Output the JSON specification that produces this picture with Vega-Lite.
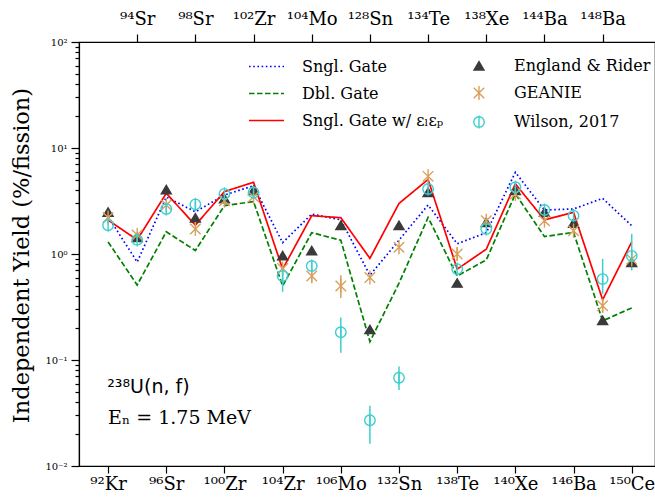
{
  "$schema": "https://vega.github.io/schema/vega-lite/v6.json",
  "width": 576,
  "height": 424,
  "autosize": "none",
  "padding": {"left": 79, "top": 42, "right": 0, "bottom": 33},
  "background": "white",
  "config": {
    "view": {"stroke": "black", "strokeWidth": 1.2},
    "font": "DejaVu Serif",
    "axis": {"domainColor": "black", "tickColor": "black", "labelColor": "black", "titleColor": "black", "grid": false, "domainWidth": 1.2, "tickWidth": 1.2, "labelFont": "DejaVu Serif", "titleFont": "DejaVu Serif"},
    "legend": {"labelFont": "DejaVu Serif", "labelColor": "black"}
  },
  "datasets": {
    "models": [
      {"model": "Sngl. Gate", "i": 0, "y": 2.25}, {"model": "Sngl. Gate", "i": 1, "y": 0.84}, {"model": "Sngl. Gate", "i": 2, "y": 3.45}, {"model": "Sngl. Gate", "i": 3, "y": 2.5}, {"model": "Sngl. Gate", "i": 4, "y": 3.6}, {"model": "Sngl. Gate", "i": 5, "y": 4.4}, {"model": "Sngl. Gate", "i": 6, "y": 1.28}, {"model": "Sngl. Gate", "i": 7, "y": 2.38}, {"model": "Sngl. Gate", "i": 8, "y": 2.1}, {"model": "Sngl. Gate", "i": 9, "y": 0.63}, {"model": "Sngl. Gate", "i": 10, "y": 1.35}, {"model": "Sngl. Gate", "i": 11, "y": 2.9}, {"model": "Sngl. Gate", "i": 12, "y": 1.25}, {"model": "Sngl. Gate", "i": 13, "y": 1.59}, {"model": "Sngl. Gate", "i": 14, "y": 5.9}, {"model": "Sngl. Gate", "i": 15, "y": 2.6}, {"model": "Sngl. Gate", "i": 16, "y": 2.66}, {"model": "Sngl. Gate", "i": 17, "y": 3.35}, {"model": "Sngl. Gate", "i": 18, "y": 1.85},
      {"model": "Dbl. Gate", "i": 0, "y": 1.3}, {"model": "Dbl. Gate", "i": 1, "y": 0.51}, {"model": "Dbl. Gate", "i": 2, "y": 1.62}, {"model": "Dbl. Gate", "i": 3, "y": 1.08}, {"model": "Dbl. Gate", "i": 4, "y": 2.86}, {"model": "Dbl. Gate", "i": 5, "y": 3.12}, {"model": "Dbl. Gate", "i": 6, "y": 0.5}, {"model": "Dbl. Gate", "i": 7, "y": 1.59}, {"model": "Dbl. Gate", "i": 8, "y": 1.35}, {"model": "Dbl. Gate", "i": 9, "y": 0.149}, {"model": "Dbl. Gate", "i": 10, "y": 0.53}, {"model": "Dbl. Gate", "i": 11, "y": 2.21}, {"model": "Dbl. Gate", "i": 12, "y": 0.62}, {"model": "Dbl. Gate", "i": 13, "y": 0.88}, {"model": "Dbl. Gate", "i": 14, "y": 3.69}, {"model": "Dbl. Gate", "i": 15, "y": 1.46}, {"model": "Dbl. Gate", "i": 16, "y": 1.6}, {"model": "Dbl. Gate", "i": 17, "y": 0.234}, {"model": "Dbl. Gate", "i": 18, "y": 0.31},
      {"model": "Sngl. Gate w/ εₗεₚ", "i": 0, "y": 2.09}, {"model": "Sngl. Gate w/ εₗεₚ", "i": 1, "y": 1.36}, {"model": "Sngl. Gate w/ εₗεₚ", "i": 2, "y": 3.74}, {"model": "Sngl. Gate w/ εₗεₚ", "i": 3, "y": 1.87}, {"model": "Sngl. Gate w/ εₗεₚ", "i": 4, "y": 3.88}, {"model": "Sngl. Gate w/ εₗεₚ", "i": 5, "y": 4.75}, {"model": "Sngl. Gate w/ εₗεₚ", "i": 6, "y": 0.72}, {"model": "Sngl. Gate w/ εₗεₚ", "i": 7, "y": 2.3}, {"model": "Sngl. Gate w/ εₗεₚ", "i": 8, "y": 2.2}, {"model": "Sngl. Gate w/ εₗεₚ", "i": 9, "y": 0.91}, {"model": "Sngl. Gate w/ εₗεₚ", "i": 10, "y": 3.0}, {"model": "Sngl. Gate w/ εₗεₚ", "i": 11, "y": 5.05}, {"model": "Sngl. Gate w/ εₗεₚ", "i": 12, "y": 0.72}, {"model": "Sngl. Gate w/ εₗεₚ", "i": 13, "y": 1.11}, {"model": "Sngl. Gate w/ εₗεₚ", "i": 14, "y": 4.59}, {"model": "Sngl. Gate w/ εₗεₚ", "i": 15, "y": 2.1}, {"model": "Sngl. Gate w/ εₗεₚ", "i": 16, "y": 2.47}, {"model": "Sngl. Gate w/ εₗεₚ", "i": 17, "y": 0.37}, {"model": "Sngl. Gate w/ εₗεₚ", "i": 18, "y": 1.3}
    ],
    "exp": [
      {"exp": "England & Rider", "i": 0, "y": 2.47}, {"exp": "England & Rider", "i": 1, "y": 1.43}, {"exp": "England & Rider", "i": 2, "y": 4.03}, {"exp": "England & Rider", "i": 3, "y": 2.18}, {"exp": "England & Rider", "i": 4, "y": 3.31}, {"exp": "England & Rider", "i": 5, "y": 3.96}, {"exp": "England & Rider", "i": 6, "y": 0.96}, {"exp": "England & Rider", "i": 7, "y": 1.07}, {"exp": "England & Rider", "i": 8, "y": 1.85}, {"exp": "England & Rider", "i": 9, "y": 0.193}, {"exp": "England & Rider", "i": 10, "y": 1.85}, {"exp": "England & Rider", "i": 11, "y": 3.8}, {"exp": "England & Rider", "i": 12, "y": 0.53}, {"exp": "England & Rider", "i": 13, "y": 1.98}, {"exp": "England & Rider", "i": 14, "y": 3.96}, {"exp": "England & Rider", "i": 15, "y": 2.47}, {"exp": "England & Rider", "i": 16, "y": 1.95}, {"exp": "England & Rider", "i": 17, "y": 0.235}, {"exp": "England & Rider", "i": 18, "y": 0.83},
      {"exp": "GEANIE", "i": 0, "y": 2.21}, {"exp": "GEANIE", "i": 1, "y": 1.51}, {"exp": "GEANIE", "i": 2, "y": 2.9}, {"exp": "GEANIE", "i": 3, "y": 1.72}, {"exp": "GEANIE", "i": 4, "y": 3.18}, {"exp": "GEANIE", "i": 5, "y": 3.47}, {"exp": "GEANIE", "i": 6, "y": 0.73}, {"exp": "GEANIE", "i": 7, "y": 0.62, "lo": 0.53, "hi": 0.72}, {"exp": "GEANIE", "i": 8, "y": 0.5, "lo": 0.385, "hi": 0.63}, {"exp": "GEANIE", "i": 9, "y": 0.6}, {"exp": "GEANIE", "i": 10, "y": 1.16}, {"exp": "GEANIE", "i": 11, "y": 5.4}, {"exp": "GEANIE", "i": 12, "y": 1.0, "lo": 0.86, "hi": 1.15}, {"exp": "GEANIE", "i": 13, "y": 2.06}, {"exp": "GEANIE", "i": 14, "y": 3.69}, {"exp": "GEANIE", "i": 15, "y": 2.06}, {"exp": "GEANIE", "i": 16, "y": 1.66}, {"exp": "GEANIE", "i": 17, "y": 0.325, "lo": 0.28, "hi": 0.38}, {"exp": "GEANIE", "i": 18, "y": 0.89},
      {"exp": "Wilson, 2017", "i": 0, "y": 1.87}, {"exp": "Wilson, 2017", "i": 1, "y": 1.36}, {"exp": "Wilson, 2017", "i": 2, "y": 2.66}, {"exp": "Wilson, 2017", "i": 3, "y": 2.94, "lo": 2.75, "hi": 3.15}, {"exp": "Wilson, 2017", "i": 4, "y": 3.69}, {"exp": "Wilson, 2017", "i": 5, "y": 3.8}, {"exp": "Wilson, 2017", "i": 6, "y": 0.62, "lo": 0.44, "hi": 0.72}, {"exp": "Wilson, 2017", "i": 7, "y": 0.77, "lo": 0.69, "hi": 0.86}, {"exp": "Wilson, 2017", "i": 8, "y": 0.183, "lo": 0.117, "hi": 0.252}, {"exp": "Wilson, 2017", "i": 9, "y": 0.027, "lo": 0.0162, "hi": 0.037}, {"exp": "Wilson, 2017", "i": 10, "y": 0.068, "lo": 0.052, "hi": 0.0866}, {"exp": "Wilson, 2017", "i": 11, "y": 4.1}, {"exp": "Wilson, 2017", "i": 12, "y": 0.72}, {"exp": "Wilson, 2017", "i": 13, "y": 1.72}, {"exp": "Wilson, 2017", "i": 14, "y": 4.26}, {"exp": "Wilson, 2017", "i": 15, "y": 2.6}, {"exp": "Wilson, 2017", "i": 16, "y": 2.3}, {"exp": "Wilson, 2017", "i": 17, "y": 0.58, "lo": 0.42, "hi": 0.9}, {"exp": "Wilson, 2017", "i": 18, "y": 0.96, "lo": 0.7, "hi": 1.55}
    ]
  },
  "resolve": {"axis": {"x": "independent"}},
  "layer": [
    {
      "data": {"name": "models"},
      "mark": {"type": "line", "strokeWidth": 1.7},
      "encoding": {
        "x": {"field": "i", "type": "quantitative", "scale": {"domain": [-1, 18.8], "nice": false, "zero": false},
          "axis": {"orient": "bottom", "title": null, "values": [0, 2, 4, 6, 8, 10, 12, 14, 16, 18], "labelExpr": "['⁹²Kr','⁹⁴Sr','⁹⁶Sr','⁹⁸Sr','¹⁰⁰Zr','¹⁰²Zr','¹⁰⁴Zr','¹⁰⁴Mo','¹⁰⁶Mo','¹²⁸Sn','¹³²Sn','¹³⁴Te','¹³⁸Te','¹³⁸Xe','¹⁴⁰Xe','¹⁴⁴Ba','¹⁴⁶Ba','¹⁴⁸Ba','¹⁵⁰Ce'][datum.value]", "tickSize": 7, "labelFontSize": 18, "labelPadding": 2, "labelFlush": false, "labelOverlap": false}},
        "y": {"field": "y", "type": "quantitative", "scale": {"type": "log", "domain": [0.01, 100], "nice": false},
          "axis": {"title": "Independent Yield (%/fission)", "values": [0.01, 0.02, 0.03, 0.04, 0.05, 0.06, 0.07, 0.08, 0.09, 0.1, 0.2, 0.3, 0.4, 0.5, 0.6, 0.7, 0.8, 0.9, 1, 2, 3, 4, 5, 6, 7, 8, 9, 10, 20, 30, 40, 50, 60, 70, 80, 90, 100],
            "labelExpr": "datum.value==100?'10²':datum.value==10?'10¹':datum.value==1?'10⁰':datum.value==0.1?'10⁻¹':datum.value==0.01?'10⁻²':''",
            "tickSize": {"condition": {"test": "indexof([0.01,0.1,1,10,100], datum.value) >= 0", "value": 8}, "value": 4},
            "labelFontSize": 10, "labelPadding": 4, "labelOverlap": false, "labelFlush": false, "labelBound": false,
            "titleFontSize": 22.5, "titleFontWeight": "normal", "titleX": -58, "titleY": 213, "titleAlign": "center", "titleBaseline": "middle", "titleAngle": 270}},
        "stroke": {"field": "model", "type": "nominal", "scale": {"domain": ["Sngl. Gate", "Dbl. Gate", "Sngl. Gate w/ εₗεₚ"], "range": ["#0000ff", "#008000", "#ff0000"]},
          "legend": {"orient": "none", "legendX": 169, "legendY": 6, "title": null, "labelFontSize": 16, "symbolType": "stroke", "symbolSize": 1225, "symbolStrokeWidth": 1.7, "labelOffset": 17, "rowPadding": -10, "padding": 0, "labelLimit": 300}},
        "strokeDash": {"field": "model", "type": "nominal", "scale": {"domain": ["Sngl. Gate", "Dbl. Gate", "Sngl. Gate w/ εₗεₚ"], "range": [[1.6, 2.6], [5.5, 2.5], [1, 0]]},
          "legend": {"orient": "none", "legendX": 169, "legendY": 6, "title": null, "labelFontSize": 16, "symbolType": "stroke", "symbolSize": 1225, "symbolStrokeWidth": 1.7, "labelOffset": 17, "rowPadding": -10, "padding": 0, "labelLimit": 300}}
      }
    },
    {
      "data": {"name": "exp"},
      "transform": [{"filter": "datum.exp == 'GEANIE' && isValid(datum.lo)"}],
      "mark": {"type": "rule", "color": "#d9a05b", "strokeWidth": 1.5},
      "encoding": {
        "x": {"field": "i", "type": "quantitative", "scale": {"domain": [-1, 18.8], "nice": false, "zero": false}, "axis": null},
        "y": {"field": "lo", "type": "quantitative", "scale": {"type": "log", "domain": [0.01, 100], "nice": false}, "title": "Independent Yield (%/fission)"},
        "y2": {"field": "hi"}
      }
    },
    {
      "data": {"name": "exp"},
      "transform": [{"filter": "datum.exp == 'Wilson, 2017' && isValid(datum.lo)"}],
      "mark": {"type": "rule", "color": "#3ccfcf", "strokeWidth": 1.5},
      "encoding": {
        "x": {"field": "i", "type": "quantitative", "scale": {"domain": [-1, 18.8], "nice": false, "zero": false}, "axis": null},
        "y": {"field": "lo", "type": "quantitative", "scale": {"type": "log", "domain": [0.01, 100], "nice": false}, "title": "Independent Yield (%/fission)"},
        "y2": {"field": "hi"}
      }
    },
    {
      "data": {"name": "exp"},
      "mark": {"type": "point", "filled": false, "strokeWidth": 1.4, "opacity": 1, "size": 110},
      "encoding": {
        "x": {"field": "i", "type": "quantitative", "scale": {"domain": [-1, 18.8], "nice": false, "zero": false},
          "axis": {"orient": "top", "title": null, "values": [1, 3, 5, 7, 9, 11, 13, 15, 17], "labelExpr": "['⁹²Kr','⁹⁴Sr','⁹⁶Sr','⁹⁸Sr','¹⁰⁰Zr','¹⁰²Zr','¹⁰⁴Zr','¹⁰⁴Mo','¹⁰⁶Mo','¹²⁸Sn','¹³²Sn','¹³⁴Te','¹³⁸Te','¹³⁸Xe','¹⁴⁰Xe','¹⁴⁴Ba','¹⁴⁶Ba','¹⁴⁸Ba','¹⁵⁰Ce'][datum.value]", "tickSize": 8, "labelFontSize": 18, "labelPadding": 6, "labelFlush": false, "labelOverlap": false}},
        "y": {"field": "y", "type": "quantitative", "scale": {"type": "log", "domain": [0.01, 100], "nice": false}, "title": "Independent Yield (%/fission)"},
        "color": {"field": "exp", "type": "nominal", "scale": {"domain": ["England & Rider", "GEANIE", "Wilson, 2017"], "range": ["#3a3a3a", "#d9a05b", "#3ccfcf"]},
          "legend": {"orient": "none", "legendX": 392, "legendY": 16, "title": null, "labelFontSize": 16, "symbolSize": 110, "symbolStrokeWidth": 1.4, "labelOffset": 27, "rowPadding": 9, "padding": 0, "labelLimit": 300}},
        "fill": {"field": "exp", "type": "nominal", "scale": {"domain": ["England & Rider", "GEANIE", "Wilson, 2017"], "range": ["#3a3a3a", "transparent", "transparent"]},
          "legend": {"orient": "none", "legendX": 392, "legendY": 16, "title": null, "labelFontSize": 16, "symbolSize": 110, "symbolStrokeWidth": 1.4, "labelOffset": 27, "rowPadding": 9, "padding": 0, "labelLimit": 300}},
        "shape": {"field": "exp", "type": "nominal", "scale": {"domain": ["England & Rider", "GEANIE", "Wilson, 2017"], "range": ["M0,-0.85L0.95,0.75L-0.95,0.75Z", "M-1,-1L1,1M-1,1L1,-1M0,-1.35L0,1.35", "M1,0A1,1,0,1,1,-1,0A1,1,0,1,1,1,0M0,-1.25L0,1.25"]},
          "legend": {"orient": "none", "legendX": 392, "legendY": 16, "title": null, "labelFontSize": 16, "symbolSize": 110, "symbolStrokeWidth": 1.4, "labelOffset": 27, "rowPadding": 9, "padding": 0, "labelLimit": 300}}
      }
    },
    {
      "data": {"values": [{}]},
      "mark": {"type": "text", "align": "left", "baseline": "alphabetic", "font": "DejaVu Sans", "fontSize": 19, "color": "black"},
      "encoding": {
        "x": {"datum": -0.03, "type": "quantitative", "scale": {"domain": [-1, 18.8], "nice": false, "zero": false}, "axis": null},
        "y": {"datum": 0.049, "type": "quantitative", "scale": {"type": "log", "domain": [0.01, 100], "nice": false}},
        "text": {"value": "²³⁸U(n, f)"}
      }
    },
    {
      "data": {"values": [{}]},
      "mark": {"type": "text", "align": "left", "baseline": "alphabetic", "font": "DejaVu Serif", "fontSize": 19, "color": "black"},
      "encoding": {
        "x": {"datum": 0.0, "type": "quantitative", "scale": {"domain": [-1, 18.8], "nice": false, "zero": false}, "axis": null},
        "y": {"datum": 0.025, "type": "quantitative", "scale": {"type": "log", "domain": [0.01, 100], "nice": false}},
        "text": {"value": "Eₙ = 1.75 MeV"}
      }
    }
  ]
}
